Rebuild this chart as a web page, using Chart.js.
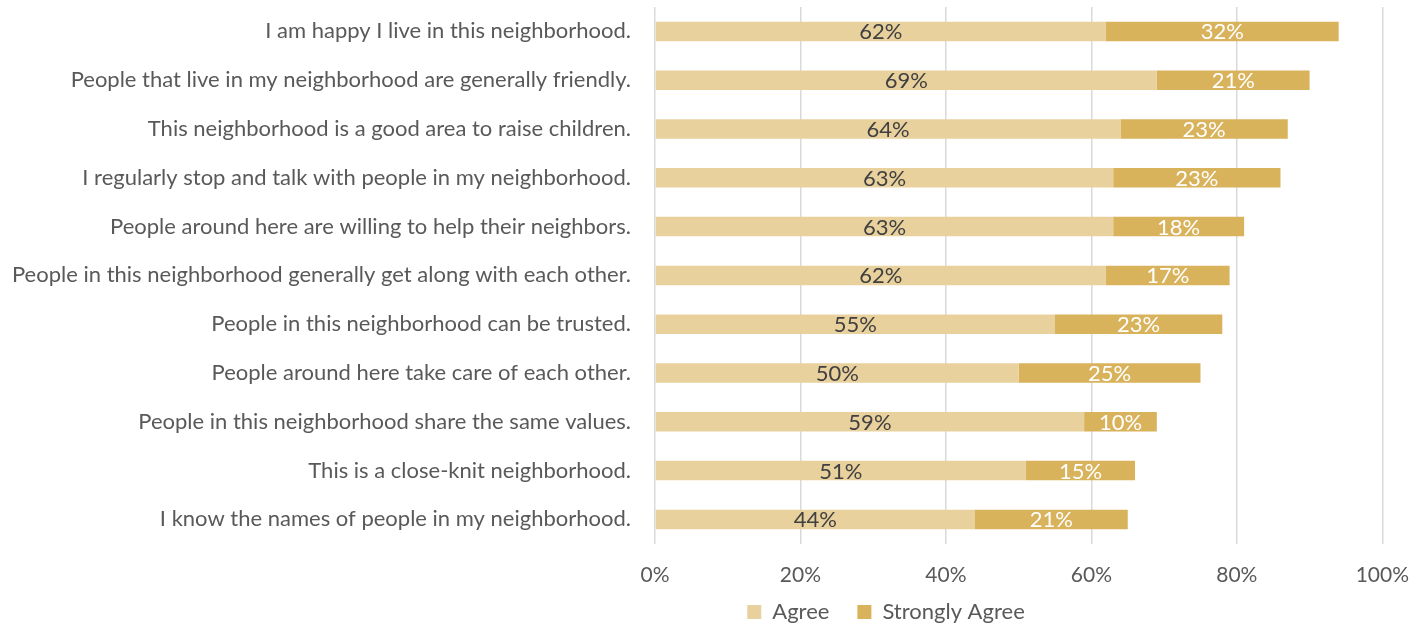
<!DOCTYPE html>
<html>
<head>
<meta charset="utf-8">
<script src="https://cdn.jsdelivr.net/npm/chart.js@4/dist/chart.umd.min.js"></script>
<style>
  html, body { margin: 0; padding: 0; background: #fff; }
  #wrap { width: 1428px; height: 626px; }
</style>
</head>
<body>
<div id="wrap"><canvas id="chart" width="1428" height="626"></canvas></div>
<script>
"use strict";

const statements = [
  "I am happy I live in this neighborhood.",
  "People that live in my neighborhood are generally friendly.",
  "This neighborhood is a good area to raise children.",
  "I regularly stop and talk with people in my neighborhood.",
  "People around here are willing to help their neighbors.",
  "People in this neighborhood generally get along with each other.",
  "People in this neighborhood can be trusted.",
  "People around here take care of each other.",
  "People in this neighborhood share the same values.",
  "This is a close-knit neighborhood.",
  "I know the names of people in my neighborhood."
];
const agree = [62, 69, 64, 63, 63, 62, 55, 50, 59, 51, 44];
const stronglyAgree = [32, 21, 23, 23, 18, 17, 23, 25, 10, 15, 21];
const xTicks = [0, 20, 40, 60, 80, 100];

const fontFamily = "Lato, 'Open Sans', sans-serif";

// draws the % numbers in the middle of every bar piece
const barLabels = {
  id: "barLabels",
  afterDatasetsDraw(chart) {
    const ctx = chart.ctx;
    ctx.save();
    ctx.font = "22px " + fontFamily;
    ctx.textAlign = "center";
    ctx.textBaseline = "middle";
    chart.data.datasets.forEach((ds, i) => {
      const meta = chart.getDatasetMeta(i);
      meta.data.forEach((bar, j) => {
        const p = bar.getCenterPoint();
        ctx.fillStyle = i === 0 ? "#404040" : "#ffffff";
        ctx.fillText(ds.data[j] + "%", p.x, p.y + 1);
      });
    });
    ctx.restore();
  }
};

// legend in the picture sits right of centre and close to the ticks
const shiftLegend = {
  id: "shiftLegend",
  afterLayout(chart) {
    const lg = chart.legend;
    lg.left += 184;
    lg.right += 184;
    lg.top = 612 - 28 - 11;
    lg.bottom = 626;
    lg.height = lg.bottom - lg.top;
  }
};

const data = {
  labels: statements,
  datasets: [
    {
      label: "Agree",
      data: agree,
      backgroundColor: "#E9D19E",
      barPercentage: 0.4,
      categoryPercentage: 1
    },
    {
      label: "Strongly Agree",
      data: stronglyAgree,
      backgroundColor: "#D9B25C",
      barPercentage: 0.4,
      categoryPercentage: 1
    }
  ]
};

const config = {
  type: "bar",
  data: data,
  options: {
    indexAxis: "y",
    responsive: false,
    animation: false,
    layout: { padding: { left: 0, right: 24, top: 7, bottom: 0 } },
    scales: {
      x: {
        stacked: true,
        min: 0,
        max: 100,
        afterBuildTicks(scale) {
          scale.ticks = xTicks.map(v => ({ value: v }));
        },
        border: { display: false },
        grid: { color: "#d9d9d9", lineWidth: 1.5, drawTicks: false },
        ticks: {
          padding: 19,
          color: "#595959",
          font: { family: fontFamily, size: 21 },
          callback: v => v + "%"
        }
      },
      y: {
        stacked: true,
        afterFit(scale) {
          scale.width = 655;
          scale.paddingTop = 0;
          scale.paddingBottom = 0;
        },
        border: { display: false },
        grid: { display: false, drawTicks: false },
        ticks: {
          padding: 24,
          color: "#595959",
          font: { family: fontFamily, size: 22 }
        }
      }
    },
    plugins: {
      legend: {
        position: "bottom",
        maxHeight: 19,
        labels: {
          color: "#595959",
          font: { family: fontFamily, size: 22 },
          boxWidth: 14,
          boxHeight: 14,
          padding: 28
        }
      },
      tooltip: { enabled: false }
    }
  },
  plugins: [barLabels, shiftLegend]
};

const myChart = new Chart(document.getElementById("chart"), config);
</script>
</body>
</html>
